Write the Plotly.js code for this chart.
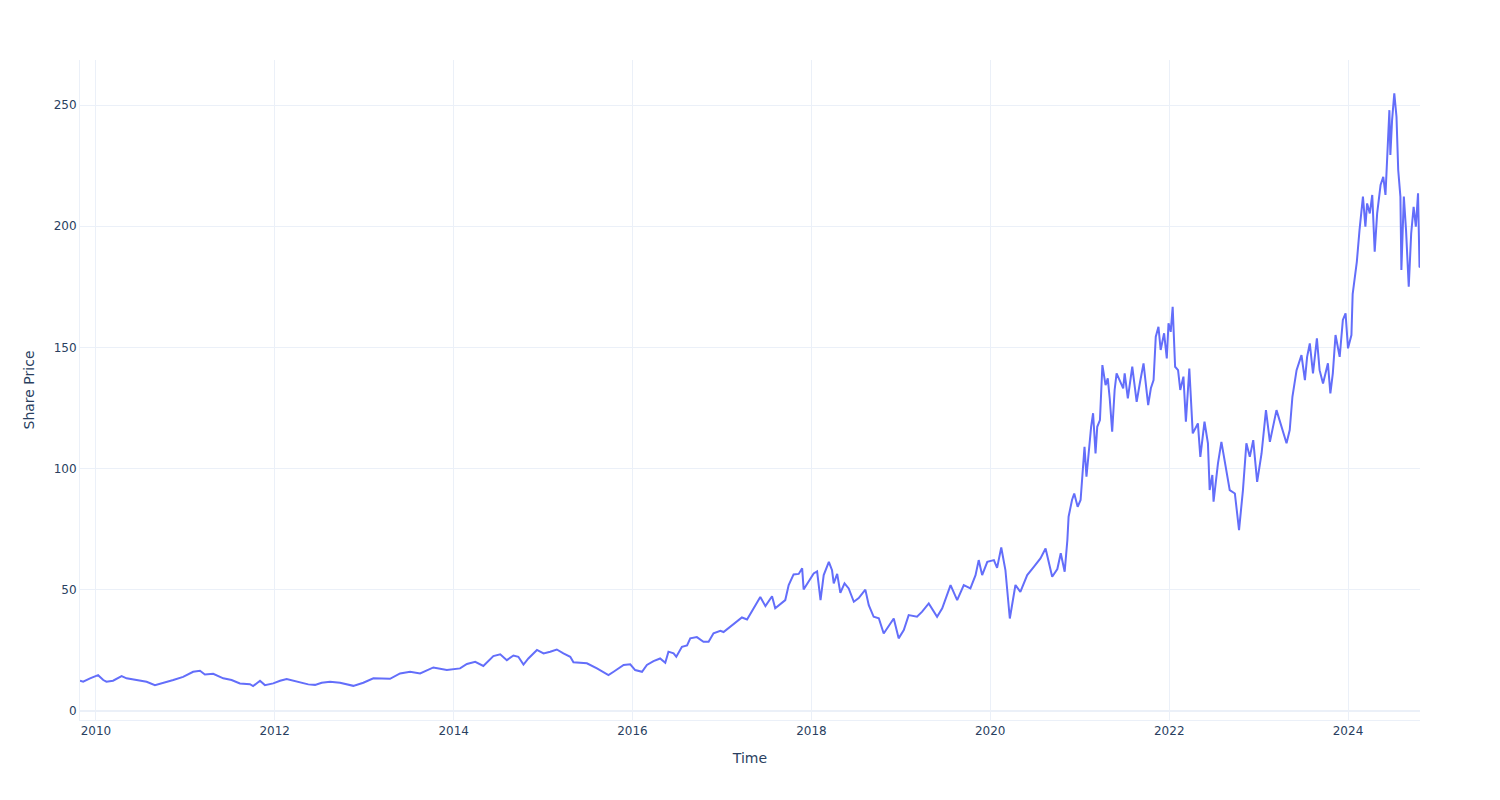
<!DOCTYPE html>
<html>
<head>
<meta charset="utf-8">
<script src="https://cdn.plot.ly/plotly-3.0.1.min.js"></script>
<style>html,body{margin:0;padding:0;background:#fff;}#chart{width:1500px;height:800px;}</style>
</head>
<body>
<div id="chart"></div>
<script>
const dates = [
"2009-10-28","2009-11-10","2009-12-08","2010-01-10","2010-01-31","2010-02-13","2010-03-12","2010-04-16","2010-05-06","2010-06-16",
"2010-07-27","2010-08-30","2010-10-03","2010-11-13","2010-12-23","2011-02-02","2011-03-02","2011-03-22","2011-04-25","2011-06-05",
"2011-07-09","2011-08-12","2011-09-22","2011-10-05","2011-11-02","2011-11-22","2011-12-26","2012-01-23","2012-02-19","2012-03-17",
"2012-05-17","2012-06-14","2012-07-11","2012-08-14","2012-09-24","2012-11-17","2012-12-28","2013-02-07","2013-04-16","2013-05-27",
"2013-07-07","2013-08-17","2013-10-10","2013-12-04","2014-01-27","2014-02-24","2014-03-30","2014-05-02","2014-06-12","2014-07-10",
"2014-08-06","2014-09-02","2014-09-22","2014-10-13","2014-11-02","2014-12-07","2015-01-03","2015-01-30","2015-02-26","2015-03-25",
"2015-04-22","2015-05-05","2015-06-29","2015-08-09","2015-09-25","2015-10-16","2015-11-26","2015-12-23","2016-01-12","2016-02-09",
"2016-02-29","2016-03-27","2016-04-23","2016-05-14","2016-05-27","2016-06-17","2016-06-28","2016-07-21","2016-08-11","2016-08-24",
"2016-09-20","2016-10-17","2016-11-07","2016-11-27","2016-12-25","2017-01-07","2017-02-03","2017-03-09","2017-03-23","2017-04-13",
"2017-05-10","2017-06-06","2017-06-27","2017-07-24","2017-08-06","2017-08-27","2017-09-16","2017-09-30","2017-10-20","2017-11-10",
"2017-11-24","2017-11-30","2017-12-21","2018-01-10","2018-01-24","2018-02-07","2018-02-20","2018-03-13","2018-03-26","2018-04-02",
"2018-04-16","2018-04-29","2018-05-16","2018-06-02","2018-06-23","2018-07-13","2018-08-09","2018-08-23","2018-09-12","2018-10-03",
"2018-10-23","2018-11-12","2018-12-03","2018-12-23","2019-01-13","2019-02-02","2019-03-08","2019-03-29","2019-04-25","2019-05-29",
"2019-06-19","2019-07-23","2019-08-19","2019-09-15","2019-10-12","2019-11-02","2019-11-15","2019-11-29","2019-12-20","2020-01-16",
"2020-01-29","2020-02-15","2020-03-03","2020-03-21","2020-03-30","2020-04-13","2020-05-03","2020-05-31","2020-06-27","2020-07-24",
"2020-08-14","2020-09-10","2020-10-01","2020-10-15","2020-10-31","2020-11-11","2020-11-16","2020-11-30","2020-12-09","2020-12-23",
"2021-01-04","2021-01-11","2021-01-20","2021-01-28","2021-02-06","2021-02-16","2021-02-24","2021-03-06","2021-03-13","2021-03-24",
"2021-04-03","2021-04-16","2021-04-25","2021-05-03","2021-05-13","2021-05-23","2021-05-31","2021-06-13","2021-06-27","2021-07-03",
"2021-07-16","2021-08-03","2021-08-21","2021-09-04","2021-09-18","2021-10-07","2021-10-18","2021-10-29","2021-11-07","2021-11-18",
"2021-11-27","2021-12-11","2021-12-22","2021-12-29","2022-01-07","2022-01-15","2022-01-25","2022-02-06","2022-02-15","2022-02-28",
"2022-03-10","2022-03-24","2022-04-07","2022-04-28","2022-05-08","2022-05-25","2022-06-08","2022-06-15","2022-06-26","2022-07-01",
"2022-07-19","2022-08-02","2022-08-16","2022-09-05","2022-09-26","2022-10-13","2022-10-29","2022-11-12","2022-11-26","2022-12-10",
"2022-12-26","2023-01-13","2023-01-31","2023-02-16","2023-03-15","2023-04-04","2023-04-25","2023-05-08","2023-05-19","2023-06-05",
"2023-06-25","2023-07-09","2023-07-18","2023-07-29","2023-08-11","2023-08-27","2023-09-07","2023-09-21","2023-10-11","2023-10-21",
"2023-10-31","2023-11-11","2023-11-28","2023-12-11","2023-12-22","2024-01-01","2024-01-15","2024-01-20","2024-02-06","2024-02-17",
"2024-03-02","2024-03-12","2024-03-19","2024-03-30","2024-04-09","2024-04-19","2024-04-29","2024-05-13","2024-05-24","2024-06-02",
"2024-06-13","2024-06-18","2024-06-22","2024-06-29","2024-07-08","2024-07-17","2024-07-24","2024-08-02","2024-08-06","2024-08-16",
"2024-08-25","2024-09-05","2024-09-15","2024-09-25","2024-10-04","2024-10-13","2024-10-19","2024-10-21"
];
const prices = [
12.4,12.0,13.4,14.7,12.7,12.0,12.4,14.3,13.4,12.7,
12.0,10.6,11.5,12.7,14.0,16.1,16.5,15.0,15.3,13.4,
12.7,11.3,11.0,10.2,12.4,10.6,11.3,12.4,13.1,12.4,
10.9,10.7,11.6,12.0,11.6,10.3,11.6,13.4,13.2,15.4,
16.1,15.4,17.9,16.8,17.5,19.3,20.2,18.5,22.6,23.3,
20.9,22.8,22.3,19.1,21.6,25.1,23.7,24.4,25.3,23.7,
22.3,20.0,19.6,17.5,14.7,16.1,18.9,19.2,16.8,16.1,
18.9,20.5,21.6,19.8,24.4,23.7,22.3,26.4,27.0,29.9,
30.4,28.5,28.5,32.0,33.0,32.5,34.7,37.4,38.5,37.7,
42.3,47.0,43.2,47.3,42.3,44.0,45.7,51.9,56.3,56.5,
58.8,50.1,53.2,56.7,57.5,45.7,56.0,61.5,58.0,52.6,
56.5,48.7,52.6,50.5,45.0,46.5,50.0,43.6,38.8,38.2,
31.9,34.7,38.1,29.9,33.3,39.5,38.8,40.9,44.3,38.8,
42.3,51.9,45.7,51.9,50.5,56.0,62.2,56.0,61.5,62.2,
59.0,67.4,58.1,38.1,44.3,51.9,49.1,56.0,59.4,62.9,
67.0,55.3,58.5,65.0,57.4,70.5,80.1,87.0,89.7,84.2,
87.0,96.6,109.0,96.6,107.6,117.2,122.8,106.2,117.2,120.0,
142.7,134.4,137.2,128.9,115.2,132.4,139.3,136.5,133.1,139.3,
128.9,142.0,127.5,135.8,143.4,126.2,133.1,136.5,154.4,158.5,
148.9,155.8,145.4,159.9,156.4,166.7,142.0,140.6,132.4,137.9,
119.3,141.3,114.5,118.6,104.8,119.3,110.4,91.1,97.3,86.3,
102.1,111.0,102.1,91.1,89.7,74.6,91.1,110.4,104.8,111.7,
94.5,106.2,124.1,111.0,124.1,117.2,110.4,115.9,129.6,140.6,
146.8,136.5,146.1,151.6,139.3,153.7,140.6,135.1,143.4,131.0,
139.3,155.1,146.1,161.3,164.0,149.6,155.1,172.0,185.3,198.4,
212.2,199.8,209.4,205.3,212.9,189.5,205.3,217.0,220.4,212.9,
236.9,247.9,229.4,243.8,254.8,245.2,223.2,212.2,181.9,212.2,
198.4,175.0,197.0,208.0,199.8,213.6,183.3,183.0
];
const xTitle = "Time";
const yTitle = "Share Price";

const fontFamily = "DejaVu Sans, Open Sans, sans-serif";
Plotly.newPlot("chart", [{
  type: "scatter",
  mode: "lines",
  x: dates,
  y: prices,
  line: {color: "#636efa", width: 2}
}], {
  width: 1500,
  height: 800,
  margin: {l: 80, r: 80, t: 60, b: 80},
  paper_bgcolor: "#ffffff",
  plot_bgcolor: "#ffffff",
  font: {family: fontFamily, color: "#2a3f5f", size: 12},
  showlegend: false,
  xaxis: {
    type: "date",
    title: {text: xTitle, font: {size: 14}, standoff: 15},
    gridcolor: "#EBF0F8",
    linecolor: "#EBF0F8",
    zerolinecolor: "#EBF0F8",
    ticks: "",
    tick0: "2010-01-01",
    dtick: "M24",
    tickformat: "%Y",
    automargin: true
  },
  yaxis: {
    title: {text: yTitle, font: {size: 14}, standoff: 15},
    gridcolor: "#EBF0F8",
    linecolor: "#EBF0F8",
    zerolinecolor: "#EBF0F8",
    zerolinewidth: 2,
    ticks: "",
    range: [-3.8, 268.6],
    automargin: true
  }
}, {displayModeBar: false});
</script>
</body>
</html>
